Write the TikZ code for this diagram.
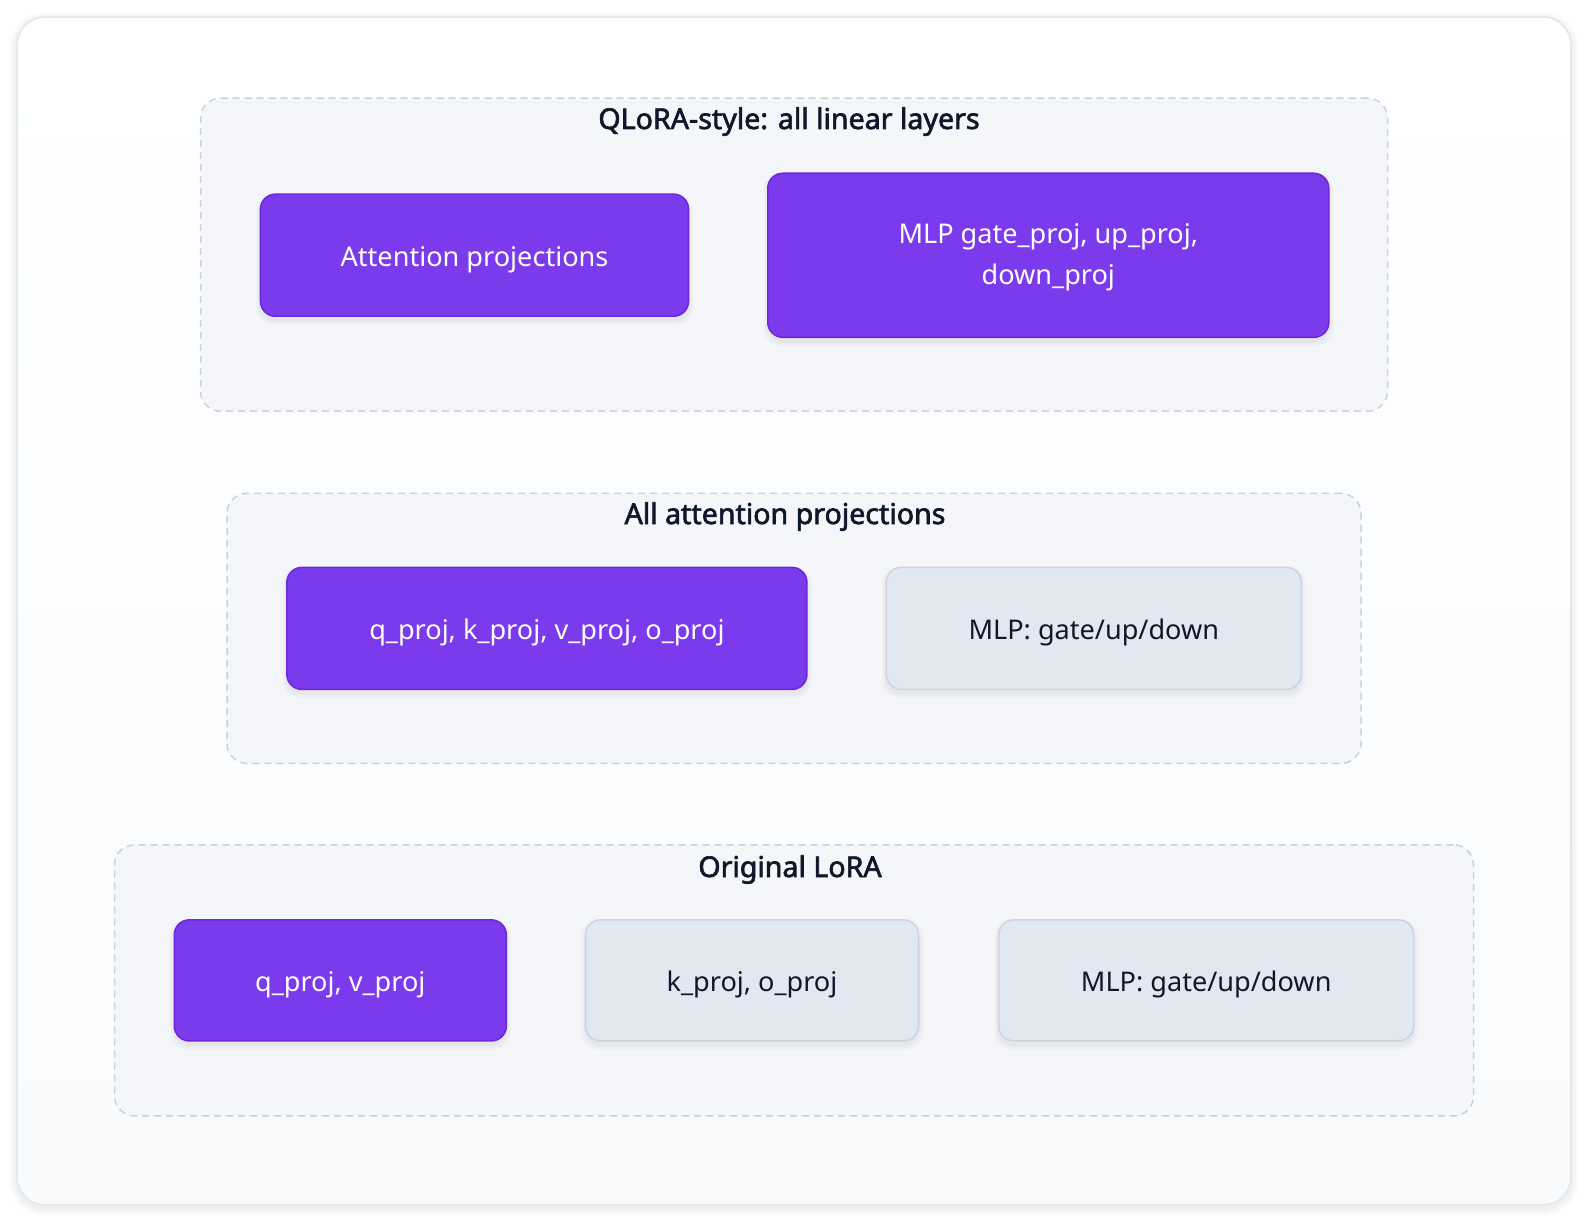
\documentclass[tikz,border=0pt]{standalone}
\usepackage{fontspec}
\setmainfont{Noto Sans}
\newfontfamily\titlefont{Noto Sans}[FakeBold=2.2]
\definecolor{violetfill}{HTML}{7C3AED}
\definecolor{violetedge}{HTML}{6D28D9}
\definecolor{greyfill}{HTML}{E2E8F0}
\definecolor{greyedge}{HTML}{CBD5E1}
\definecolor{groupfill}{HTML}{F4F6FA}
\definecolor{groupedge}{HTML}{C8D2DF}
\definecolor{frameedge}{HTML}{E2E8F0}
\definecolor{inktext}{HTML}{0F172A}
\definecolor{framebottom}{HTML}{F8FAFC}
\tikzset{
  groupbox/.style={draw=groupedge, fill=groupfill, dashed, dash pattern=on 7pt off 5pt, line width=1.5pt, rounded corners=20pt, inner sep=0pt},
  grouptitle/.style={font=\titlefont\fontsize{28.6}{34}\selectfont, text=inktext, inner sep=0pt, anchor=base},
  boxbase/.style={line width=1.6pt, rounded corners=15pt, align=center, inner sep=0pt, text depth=0pt, font=\fontsize{27.1}{41.5}\selectfont},
  onbox/.style={boxbase, draw=violetedge, fill=violetfill, text=white},
  offbox/.style={boxbase, draw=greyedge, fill=greyfill, text=inktext},
  softshadow/.style={fill=black, opacity=0.012, rounded corners=17pt},
}
\newcommand{\boxshadow}[4]{% cx cy w h
  \foreach \s in {1,...,5}{
    \fill[softshadow] ({#1-#3/2-\s},{#2-#4/2-\s+4}) rectangle ({#1+#3/2+\s},{#2+#4/2+\s+4});
  }
}
\begin{document}
\begin{tikzpicture}[x=1pt,y=-1pt]
\useasboundingbox (0,0) rectangle (1588,1222);
\fill[white] (0,0) rectangle (1588,1222);
% outer frame shadow
\foreach \s in {1,...,8}{
  \fill[black, opacity=0.006, rounded corners={28+\s}] ({17-\s},{17-\s+3}) rectangle ({1571+\s},{1205+\s+3});
}
\shade[top color=white, bottom color=framebottom, rounded corners=28pt] (17,17) rectangle (1571,1205);
\draw[frameedge, line width=1.6pt, rounded corners=28pt] (17,17) rectangle (1571,1205);

% group 1
\node[groupbox, minimum width=1187pt, minimum height=313pt] (g1) at (794,254.7) {};
\node[grouptitle] (t1) at (789,129) {QLoRA-style: all linear layers};
\boxshadow{474.5}{255.2}{428}{122}
\boxshadow{1048.3}{255.3}{561}{164}
\node[onbox, minimum width=428pt, minimum height=122pt] (a1) at (474.5,255.2) {\raisebox{-2pt}{Attention projections}};
\node[onbox, minimum width=561pt, minimum height=164pt] (b1) at (1048.3,255.3) {\raisebox{34.5pt}{\begin{tabular}{@{}c@{}}MLP gate\_proj, up\_proj,\\down\_proj\end{tabular}}};

% group 2
\node[groupbox, minimum width=1134pt, minimum height=270pt] (g2) at (794,628.4) {};
\node[grouptitle] (t2) at (785,524) {All attention projections};
\boxshadow{546.9}{628.4}{520}{122}
\boxshadow{1093.8}{628.4}{415}{122}
\node[onbox, minimum width=520pt, minimum height=122pt] (a2) at (546.9,628.4) {\raisebox{-2pt}{q\_proj, k\_proj, v\_proj, o\_proj}};
\node[offbox, minimum width=415pt, minimum height=122pt] (b2) at (1093.8,628.4) {\raisebox{-2pt}{MLP: gate/up/down}};

% group 3
\node[groupbox, minimum width=1359pt, minimum height=271pt] (g3) at (794,980.4) {};
\node[grouptitle] (t3) at (790,877) {Original LoRA};
\boxshadow{340.3}{980.4}{332}{121}
\boxshadow{752}{980.4}{333}{121}
\boxshadow{1206.2}{980.4}{415}{121}
\node[onbox, minimum width=332pt, minimum height=121pt] (a3) at (340.3,980.4) {\raisebox{-2pt}{q\_proj, v\_proj}};
\node[offbox, minimum width=333pt, minimum height=121pt] (b3) at (752,980.4) {\raisebox{-2pt}{k\_proj, o\_proj}};
\node[offbox, minimum width=415pt, minimum height=121pt] (c3) at (1206.2,980.4) {\raisebox{-2pt}{MLP: gate/up/down}};
\end{tikzpicture}
\end{document}
